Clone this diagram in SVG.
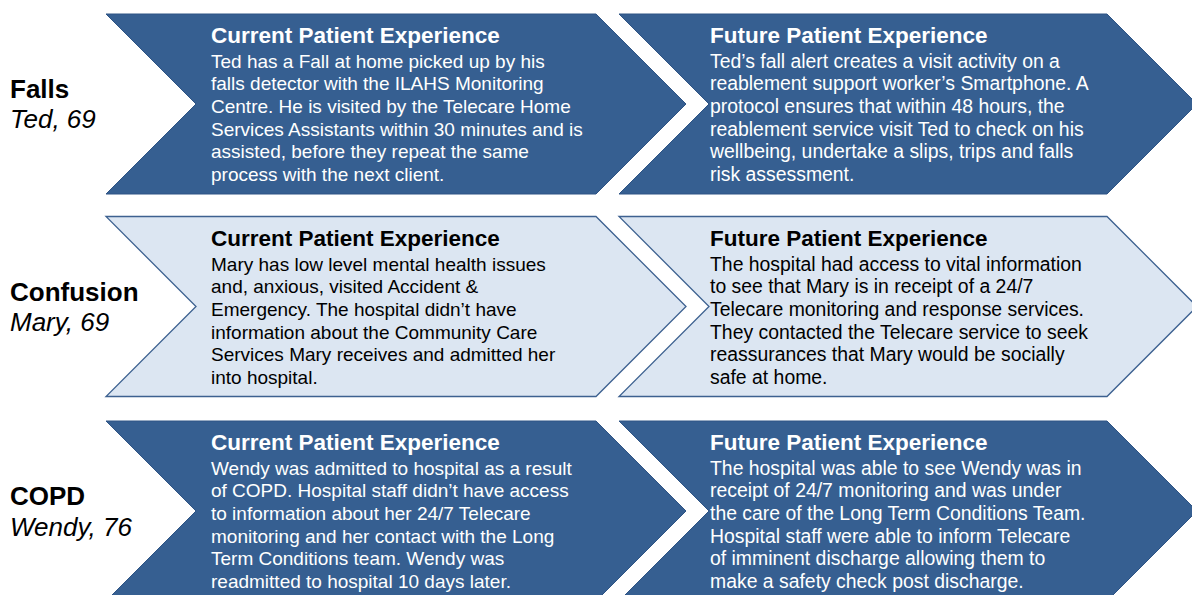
<svg xmlns="http://www.w3.org/2000/svg" width="1192" height="595" viewBox="0 0 1192 595">
<style>
.dark{fill:#365F91;stroke:#2E5485;stroke-width:1}
.light{fill:#DCE6F2;stroke:#3D6190;stroke-width:1.3}
.t{font-family:"Liberation Sans",Arial,sans-serif;font-weight:bold;font-size:22.5px}
.b{font-family:"Liberation Sans",Arial,sans-serif;font-size:19.4px}
.bc{font-family:"Liberation Sans",Arial,sans-serif;font-size:19px}
.w{fill:#FFFFFF}
.k{fill:#000000}
.lab{font-family:"Liberation Sans",Arial,sans-serif;font-weight:bold;font-size:26px;fill:#000}
.sub{font-family:"Liberation Sans",Arial,sans-serif;font-style:italic;font-size:26px;fill:#000}
</style>
<rect width="1192" height="595" fill="#FFFFFF"/>
<g id="labels">
<g id="label-falls"><text class="lab" x="10" y="97.5">Falls</text><text class="sub" x="10" y="128">Ted, 69</text></g>
<g id="label-confusion"><text class="lab" x="10" y="300.5">Confusion</text><text class="sub" x="10" y="331">Mary, 69</text></g>
<g id="label-copd"><text class="lab" x="10" y="505">COPD</text><text class="sub" x="10" y="535.5">Wendy, 76</text></g>
</g>
<g id="connectors"></g>
<g id="falls-current">
<polygon class="dark" points="106,14 596,14 686,104 596,194 106,194 196,104"/>
<text class="t w" x="211" y="42.5">Current Patient Experience</text>
<text class="bc w" x="211" y="67.5"><tspan x="211" dy="0">Ted has a Fall at home picked up by his</tspan><tspan x="211" dy="22.7">falls detector with the ILAHS Monitoring</tspan><tspan x="211" dy="22.7">Centre. He is visited by the Telecare Home</tspan><tspan x="211" dy="22.7">Services Assistants within 30 minutes and is</tspan><tspan x="211" dy="22.7">assisted, before they repeat the same</tspan><tspan x="211" dy="22.7">process with the next client.</tspan></text>
</g>
<g id="falls-future">
<polygon class="dark" points="619,14 1107,14 1197,104 1107,194 619,194 709,104"/>
<text class="t w" x="710" y="42.5">Future Patient Experience</text>
<text class="b w" x="710" y="67.5"><tspan x="710" dy="0">Ted’s fall alert creates a visit activity on a</tspan><tspan x="710" dy="22.7">reablement support worker’s Smartphone. A</tspan><tspan x="710" dy="22.7">protocol ensures that within 48 hours, the</tspan><tspan x="710" dy="22.7">reablement service visit Ted to check on his</tspan><tspan x="710" dy="22.7">wellbeing, undertake a slips, trips and falls</tspan><tspan x="710" dy="22.7">risk assessment.</tspan></text>
</g>
<g id="confusion-current">
<polygon class="light" points="106,216.5 596,216.5 686,306.5 596,396.5 106,396.5 196,306.5"/>
<text class="t k" x="211" y="245.5">Current Patient Experience</text>
<text class="bc k" x="211" y="270.5"><tspan x="211" dy="0">Mary has low level mental health issues</tspan><tspan x="211" dy="22.7">and, anxious, visited Accident &amp;</tspan><tspan x="211" dy="22.7">Emergency. The hospital didn’t have</tspan><tspan x="211" dy="22.7">information about the Community Care</tspan><tspan x="211" dy="22.7">Services Mary receives and admitted her</tspan><tspan x="211" dy="22.7">into hospital.</tspan></text>
</g>
<g id="confusion-future">
<polygon class="light" points="619,216.5 1107,216.5 1197,306.5 1107,396.5 619,396.5 709,306.5"/>
<text class="t k" x="710" y="245.5">Future Patient Experience</text>
<text class="b k" x="710" y="270.5"><tspan x="710" dy="0">The hospital had access to vital information</tspan><tspan x="710" dy="22.7">to see that Mary is in receipt of a 24/7</tspan><tspan x="710" dy="22.7">Telecare monitoring and response services.</tspan><tspan x="710" dy="22.7">They contacted the Telecare service to seek</tspan><tspan x="710" dy="22.7">reassurances that Mary would be socially</tspan><tspan x="710" dy="22.7">safe at home.</tspan></text>
</g>
<g id="copd-current">
<polygon class="dark" points="106,421 596,421 686,511 596,601 106,601 196,511"/>
<text class="t w" x="211" y="449.5">Current Patient Experience</text>
<text class="bc w" x="211" y="474.5"><tspan x="211" dy="0">Wendy was admitted to hospital as a result</tspan><tspan x="211" dy="22.7">of COPD. Hospital staff didn’t have access</tspan><tspan x="211" dy="22.7">to information about her 24/7 Telecare</tspan><tspan x="211" dy="22.7">monitoring and her contact with the Long</tspan><tspan x="211" dy="22.7">Term Conditions team. Wendy was</tspan><tspan x="211" dy="22.7">readmitted to hospital 10 days later.</tspan></text>
</g>
<g id="copd-future">
<polygon class="dark" points="619,421 1107,421 1197,511 1107,601 619,601 709,511"/>
<text class="t w" x="710" y="449.5">Future Patient Experience</text>
<text class="b w" x="710" y="474.5"><tspan x="710" dy="0">The hospital was able to see Wendy was in</tspan><tspan x="710" dy="22.7">receipt of 24/7 monitoring and was under</tspan><tspan x="710" dy="22.7">the care of the Long Term Conditions Team.</tspan><tspan x="710" dy="22.7">Hospital staff were able to inform Telecare</tspan><tspan x="710" dy="22.7">of imminent discharge allowing them to</tspan><tspan x="710" dy="22.7">make a safety check post discharge.</tspan></text>
</g>
</svg>
